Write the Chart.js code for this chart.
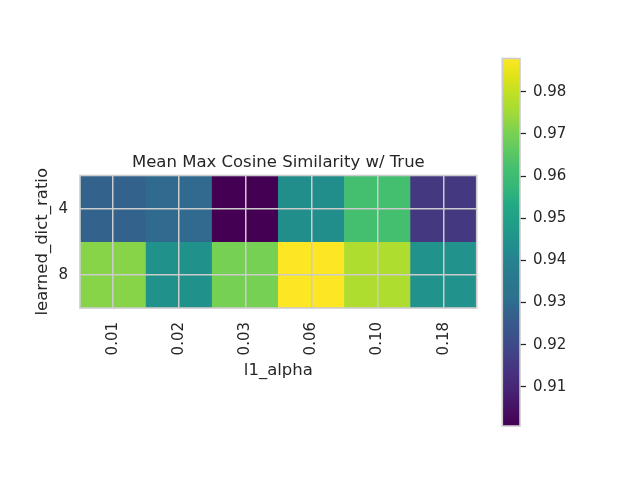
<!DOCTYPE html>
<html>
<head>
<meta charset="utf-8">
<script src="https://cdn.jsdelivr.net/npm/chart.js@4.4.1/dist/chart.umd.min.js"></script>
<style>
  body { margin: 0; background: #ffffff; }
  #wrap { position: relative; width: 640px; height: 480px; }
  canvas { position: absolute; top: 0; }
</style>
</head>
<body>
<div id="wrap">
  <canvas id="heatmap" width="640" height="480" style="left:0;width:640px;height:480px"></canvas>
  <canvas id="colorbar" width="160" height="480" style="left:480px;width:160px;height:480px"></canvas>
</div>
<script>
// data
const alphaLabels = ['0.01', '0.02', '0.03', '0.06', '0.10', '0.18'];
const ratioLabels = ['4', '8'];
const ratio4Values = [0.9277, 0.9294, 0.9007, 0.9434, 0.9617, 0.9151];
const ratio8Values = [0.9721, 0.9442, 0.9699, 0.9879, 0.9771, 0.9445];
const colorbarTicks = [0.91, 0.92, 0.93, 0.94, 0.95, 0.96, 0.97, 0.98];

const rows = [ratio4Values, ratio8Values];
const allValues = ratio4Values.concat(ratio8Values);
const vmin = Math.min(...allValues);
const vmax = Math.max(...allValues);

// viridis colormap, stops at 0, 0.05, 0.1 ... 1
const viridisStops = ['#440154', '#471164', '#482475', '#46337f', '#414487', '#3b528b', '#355f8d',
    '#2c728e', '#2a788e', '#26828e', '#21918c', '#1f9e89', '#22a884', '#35b779', '#44bf70',
    '#5ec962', '#7ad151', '#a0da39', '#bddf26', '#dfe318', '#fde725'];

function hexToRgb(h) {
    return [parseInt(h.slice(1, 3), 16), parseInt(h.slice(3, 5), 16), parseInt(h.slice(5, 7), 16)];
}

function viridisAt(t) {
    t = Math.max(0, Math.min(1, t));
    const n = viridisStops.length - 1;
    const i = Math.min(n - 1, Math.floor(t * n));
    const f = t * n - i;
    const a = hexToRgb(viridisStops[i]), b = hexToRgb(viridisStops[i + 1]);
    const c = a.map((v, k) => Math.round(v + (b[k] - v) * f));
    return 'rgb(' + c.join(',') + ')';
}

function colorFor(v) {
    return viridisAt((v - vmin) / (vmax - vmin));
}

const textColor = '#262626';
const edgeColor = '#cccccc';
const fontFamily = '"DejaVu Sans", sans-serif';

// light frame round the plot area
const framePlugin = {
    id: 'frame',
    afterDraw(chart) {
        const a = chart.chartArea;
        const ctx = chart.ctx;
        ctx.save();
        ctx.strokeStyle = edgeColor;
        ctx.lineWidth = 1.6;
        ctx.strokeRect(a.left, a.top, a.right - a.left, a.bottom - a.top);
        ctx.restore();
    }
};

// 1. Heatmap
new Chart(document.getElementById('heatmap'), {
    type: 'bar',
    data: {
        labels: alphaLabels,
        datasets: rows.map((vals, i) => ({
            label: ratioLabels[i],
            data: vals.map(() => [i - 0.5, i + 0.5]),
            backgroundColor: vals.map(colorFor),
            borderWidth: 0,
            grouped: false,
            barPercentage: 1,
            categoryPercentage: 1
        }))
    },
    options: {
        responsive: false,
        animation: false,
        layout: { padding: { left: 28.6, top: 152.6, right: 163.3, bottom: 95.1 } },
        plugins: {
            legend: { display: false },
            tooltip: { enabled: false },
            title: {
                display: true,
                fullSize: false,
                text: 'Mean Max Cosine Similarity w/ True',
                color: textColor,
                font: { family: fontFamily, size: 16.5, weight: 'normal' },
                padding: { top: 0, bottom: 3.1 }
            }
        },
        scales: {
            x: {
                afterFit: (s) => { s.height = 76.9; },
                grid: { offset: false, color: edgeColor, lineWidth: 1.5, drawTicks: false, z: 1 },
                border: { display: false },
                ticks: {
                    color: textColor, font: { family: fontFamily, size: 15 },
                    minRotation: 90, maxRotation: 90, padding: 14
                },
                title: {
                    display: true, text: 'l1_alpha', color: textColor,
                    font: { family: fontFamily, size: 16.5 }
                }
            },
            y: {
                min: -0.5, max: 1.5, reverse: true,
                afterFit: (s) => { s.width = 51.4; },
                afterBuildTicks: (s) => { s.ticks = ratioLabels.map((_, i) => ({ value: i })); },
                grid: { color: edgeColor, lineWidth: 1.5, drawTicks: false, z: 1 },
                border: { display: false },
                ticks: {
                    color: textColor, font: { family: fontFamily, size: 15 }, padding: 12,
                    callback: (v) => ratioLabels[v]
                },
                title: {
                    display: true, text: 'learned_dict_ratio', color: textColor,
                    font: { family: fontFamily, size: 16.5 }
                }
            }
        }
    },
    plugins: [framePlugin]
});

// 2. Colour bar
new Chart(document.getElementById('colorbar'), {
    type: 'bar',
    data: {
        labels: [''],
        datasets: [{
            data: [[vmin, vmax]],
            borderWidth: 0,
            barPercentage: 1,
            categoryPercentage: 1,
            backgroundColor: (ctx) => {
                const area = ctx.chart.chartArea;
                if (!area) return viridisStops[10];
                const g = ctx.chart.ctx.createLinearGradient(0, area.bottom, 0, area.top);
                viridisStops.forEach((c, i) => g.addColorStop(i / (viridisStops.length - 1), c));
                return g;
            }
        }]
    },
    options: {
        responsive: false,
        animation: false,
        layout: { padding: { left: 22.3, top: 58.5, right: 0, bottom: 54 } },
        plugins: { legend: { display: false }, tooltip: { enabled: false } },
        scales: {
            x: { display: false },
            y: {
                position: 'right',
                min: vmin, max: vmax,
                afterFit: (s) => { s.width = 120; },
                afterBuildTicks: (s) => { s.ticks = colorbarTicks.map(v => ({ value: v })); },
                grid: { drawOnChartArea: false, drawTicks: true, tickLength: 6, tickColor: textColor, tickWidth: 1.25 },
                border: { display: false },
                ticks: {
                    color: textColor, font: { family: fontFamily, size: 15 }, padding: 7,
                    callback: (v) => v.toFixed(2)
                }
            }
        }
    },
    plugins: [framePlugin]
});
</script>
</body>
</html>
